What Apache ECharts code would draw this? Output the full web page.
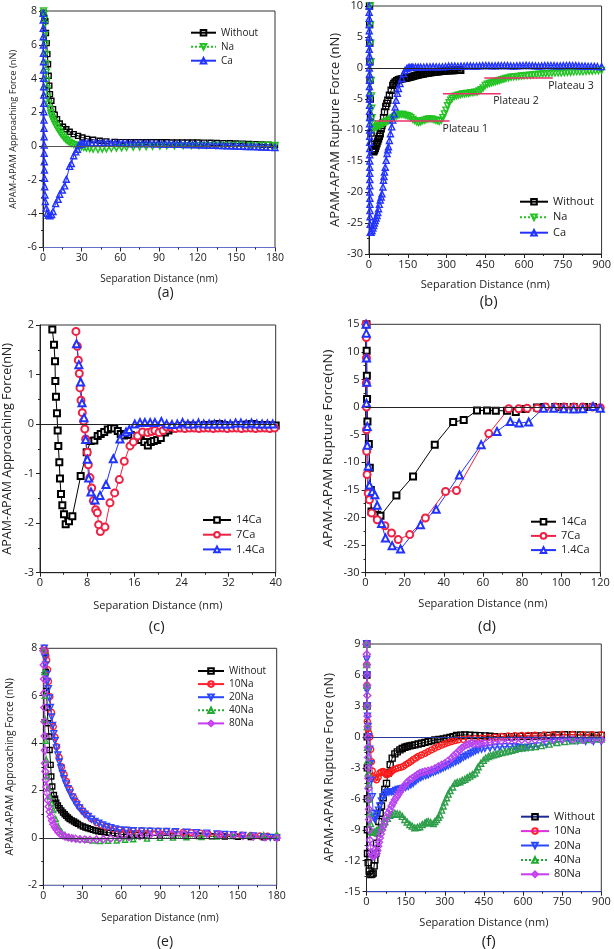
<!DOCTYPE html>
<html><head><meta charset="utf-8">
<script src="https://cdn.jsdelivr.net/npm/echarts@6/dist/echarts.min.js"></script>
<style>html,body{margin:0;padding:0;background:#fff}#c{width:614px;height:949px}</style>
</head><body><div id="c"></div>
<script>
// ---------- Panel (a): approaching force ----------
const aWithout = [[0.3,7.9],[1.0,7.6],[1.8,7.4],[2.3,6.7],[2.85,6.1],[3.4,5.45],[3.9,4.85],[4.4,4.17],[4.9,3.58],[5.4,3.08],[6.5,2.69],[7.8,2.19],[9.1,1.86],[10.9,1.6],[13,1.34],[15.5,1.15],[18.1,1.0],[20.7,0.85],[23.8,0.71],[27.2,0.61],[30.6,0.51],[34.2,0.43],[38.9,0.38],[44,0.32],[49.2,0.28],[55.7,0.25],[60,0.24],[64,0.24],[68,0.24],[72,0.23],[76,0.23],[80,0.23],[84,0.23],[88,0.23],[92,0.23],[96,0.23],[100,0.22],[104,0.22],[108,0.22],[112,0.22],[116,0.22],[120,0.22],[125,0.21],[130,0.2],[135,0.19],[140,0.18],[145,0.17],[150,0.16],[155,0.15],[160,0.13],[165,0.12],[170,0.1],[175,0.08],[180,0.06]];
const aNa = [[0.5,8.0],[0.8,7.8],[1.05,7.5],[1.3,7.2],[1.55,6.6],[1.8,6.05],[2.1,5.45],[2.3,4.86],[2.6,4.37],[2.85,3.87],[3.1,3.38],[3.6,2.89],[4.4,2.49],[5.2,2.19],[6.0,1.95],[6.5,1.8],[7.2,1.66],[7.8,1.54],[8.7,1.4],[9.6,1.26],[10.6,1.12],[11.7,0.99],[12.7,0.87],[13.7,0.75],[14.9,0.63],[16.1,0.51],[17.4,0.41],[18.7,0.32],[20.3,0.24],[22,0.16],[24,0.09],[25.9,0.04],[27.8,0],[29.8,-0.04],[31.7,-0.08],[33.7,-0.12],[36.3,-0.15],[38.9,-0.18],[42.7,-0.2],[46,-0.18],[49.2,-0.16],[53,-0.14],[57,-0.12],[61,-0.1],[64.8,-0.08],[70,-0.06],[75,-0.04],[80,-0.03],[85,-0.02],[90.7,0],[96,0.01],[102,0.01],[108.8,0.02],[115,0.03],[121,0.03],[127,0.04],[134,0.04],[141,0.04],[147.7,0.04],[154,0.05],[161,0.04],[168,0.04],[174,0.05],[180,0.04]];
const aCa = [[0.1,7.86],[0.15,7.47],[0.2,6.98],[0.25,6.48],[0.3,5.99],[0.35,5.5],[0.4,5.0],[0.45,4.51],[0.5,4.02],[0.55,3.52],[0.6,3.03],[0.65,2.54],[0.7,2.04],[0.75,1.55],[0.8,1.06],[0.85,0.56],[0.9,0.07],[0.95,-0.42],[1.0,-0.92],[1.1,-1.41],[1.2,-1.9],[1.3,-2.4],[1.5,-2.89],[1.8,-3.28],[2.5,-3.67],[3.2,-3.97],[4.2,-4.09],[5.4,-4.12],[6.7,-4.05],[7.8,-3.87],[9.8,-3.4],[11.7,-3.14],[13,-2.85],[15,-2.6],[16.8,-2.35],[18.1,-1.96],[20.7,-1.2],[22,-1.03],[23.8,-0.57],[25.4,-0.34],[26.7,-0.18],[28,0.08],[29.5,0.13],[31,0.16],[33,0.17],[35,0.18],[38,0.18],[41,0.19],[44,0.19],[47,0.19],[50,0.18],[53,0.18],[56,0.18],[59,0.17],[62,0.17],[65,0.17],[68,0.16],[71,0.16],[74,0.16],[77,0.15],[80,0.15],[83,0.15],[86,0.14],[89,0.14],[92,0.13],[95,0.13],[98,0.12],[101,0.12],[104,0.11],[107,0.11],[110,0.1],[113,0.1],[116,0.09],[119,0.08],[122,0.08],[125,0.07],[128,0.06],[131,0.05],[134,0.05],[137,0.04],[140,0.03],[143,0.02],[146,0.02],[149,0.01],[152,0],[155,-0.01],[158,-0.02],[161,-0.03],[164,-0.03],[167,-0.04],[170,-0.05],[173,-0.06],[176,-0.07],[180,-0.08]];

// ---------- Panel (b): rupture force ----------
const bWithout = [[2,10],[2.5,7],[3,4],[3.5,1],[4,-2],[5,-5],[6,-8],[8,-10.5],[11,-12.3],[14,-13.2],[17.9,-13.5],[21,-13.3],[24.3,-13.0],[27.5,-12.6],[30.7,-12.2],[34,-11.8],[37,-11.4],[40,-11],[43.5,-10.6],[47.3,-9.8],[50,-9.3],[52.4,-8.9],[56.3,-8.0],[60,-7.1],[65,-6.2],[69,-5.7],[72.9,-5.2],[79,-4.4],[85.7,-3.6],[92,-2.8],[96,-2.5],[101,-2.26],[107,-2.05],[113.8,-1.88],[120,-1.82],[127,-1.76],[133,-1.72],[140,-1.68],[146,-1.62],[152,-1.56],[158,-1.48],[165,-1.4],[171,-1.32],[178,-1.24],[184,-1.18],[190,-1.12],[197,-1.06],[203,-1.02],[210,-0.96],[216,-0.9],[222,-0.85],[229,-0.8],[235,-0.76],[241,-0.72],[248,-0.68],[254,-0.65],[261,-0.62],[267,-0.6],[273,-0.57],[280,-0.54],[287,-0.51],[293,-0.48],[300,-0.45],[306,-0.43],[312,-0.41],[318,-0.4],[324,-0.4],[330,-0.4],[337,-0.39],[344,-0.38],[350,-0.37],[355,-0.37]];
const bNa = [[5,10],[6,7],[7,4],[8,1],[9,-2],[10,-4.5],[11,-6.5],[12,-8],[14,-9],[17,-9.6],[22,-9.7],[28,-9.5],[34,-9.4],[40,-9.3],[46,-9.2],[52,-9.0],[58,-8.9],[64,-8.7],[70,-8.6],[76,-8.5],[82,-8.3],[88,-8.2],[94,-8.0],[100,-7.8],[106,-7.7],[112,-7.6],[118,-7.5],[125,-7.5],[132,-7.5],[140,-7.6],[148,-7.7],[155,-7.8],[162,-8.0],[170,-8.3],[177,-8.5],[185,-8.7],[192,-8.8],[200,-8.7],[208,-8.5],[216,-8.4],[224,-8.3],[232,-8.2],[240,-8.2],[248,-8.3],[256,-8.4],[264,-8.5],[272,-8.6],[280,-8.4],[286,-8.0],[292,-7.4],[298,-6.8],[304,-6.1],[310,-5.6],[316,-5.2],[322,-4.9],[330,-4.6],[338,-4.5],[346,-4.4],[354,-4.3],[362,-4.2],[370,-4.2],[378,-4.1],[386,-4.1],[394,-4.0],[402,-4.0],[410,-3.9],[418,-3.9],[426,-3.7],[434,-3.5],[442,-3.2],[450,-2.8],[458,-2.6],[466,-2.5],[474,-2.4],[482,-2.3],[490,-2.2],[498,-2.1],[506,-2.0],[514,-1.9],[522,-1.8],[530,-1.7],[540,-1.6],[550,-1.5],[560,-1.45],[570,-1.4],[580,-1.35],[590,-1.3],[600,-1.25],[612,-1.2],[624,-1.15],[636,-1.1],[648,-1.05],[660,-1.0],[672,-0.95],[684,-0.9],[696,-0.9],[708,-0.85],[720,-0.8],[732,-0.8],[744,-0.8],[756,-0.75],[768,-0.7],[780,-0.7],[792,-0.65],[804,-0.6],[816,-0.6],[828,-0.6],[840,-0.55],[852,-0.5],[864,-0.5],[876,-0.45],[888,-0.45],[900,-0.4]];
const bCa = [[0.5,10],[0.6,9],[0.7,8],[0.8,7],[0.9,6],[1.0,5],[1.1,4],[1.2,3],[1.3,2],[1.4,1],[1.5,0],[1.6,-1],[1.7,-2],[1.8,-3],[1.9,-4],[2.0,-5],[2.1,-6],[2.2,-7],[2.3,-8],[2.4,-9],[2.5,-10],[2.6,-11],[2.7,-12],[2.8,-13],[2.9,-14],[3.0,-15],[3.1,-16],[3.2,-17],[3.3,-18],[3.4,-19],[3.5,-20],[3.6,-21],[3.7,-22],[3.9,-23],[4.1,-24],[4.5,-25.2],[5,-26.5],[8,-26.5],[11.5,-26.2],[15,-25.8],[18,-25.4],[21,-25],[24,-24.6],[27.5,-24.2],[31,-23.8],[34,-23.3],[37,-22.7],[40,-22],[43.5,-21.3],[47,-20.8],[50,-20.3],[54,-19.2],[56,-18.1],[58,-17.5],[60,-16.8],[63,-16],[66.5,-14.9],[70,-13.8],[73,-13.2],[75.4,-12.7],[79,-11.7],[83,-10.6],[88,-9.5],[92,-8.4],[97,-7.4],[101,-6.3],[105,-5.2],[110,-4.1],[114,-3.3],[120,-2.5],[127,-1.7],[133,-0.9],[139,-0.4],[146,-0.1],[152,0.05],[158,0.1],[164,0.12],[170,0.15],[180,0.15],[190,0.15],[200,0.15],[212,0.16],[224,0.18],[236,0.2],[248,0.22],[260,0.2],[272,0.18],[284,0.2],[296,0.25],[308,0.3],[320,0.32],[332,0.3],[344,0.28],[356,0.3],[368,0.33],[380,0.35],[392,0.35],[404,0.33],[416,0.32],[428,0.35],[440,0.38],[452,0.4],[464,0.38],[476,0.35],[488,0.35],[500,0.38],[512,0.4],[524,0.4],[536,0.38],[548,0.35],[560,0.33],[572,0.35],[584,0.38],[596,0.4],[608,0.42],[620,0.4],[632,0.38],[644,0.35],[656,0.33],[668,0.35],[680,0.38],[692,0.4],[704,0.4],[716,0.38],[728,0.35],[740,0.35],[752,0.38],[764,0.4],[776,0.42],[788,0.4],[800,0.38],[812,0.35],[824,0.33],[836,0.3],[848,0.28],[860,0.28],[872,0.27],[884,0.25],[900,0.22]];
const plateau1 = [[24,-8.55],[312,-8.55]];
const plateau2 = [[286,-4.14],[510,-4.14]];
const plateau3 = [[446,-1.6],[711,-1.6]];

// ---------- Panel (c): approaching force, Ca ----------
const c14Ca = [[2.09,1.91],[2.38,1.6],[2.55,1.27],[2.6,0.87],[2.71,0.55],[2.88,0.22],[3.0,-0.13],[3.11,-0.44],[3.28,-0.77],[3.39,-1.1],[3.56,-1.41],[3.79,-1.64],[4.07,-1.82],[4.36,-2.02],[4.92,-1.96],[5.49,-1.86],[6.9,-1.05],[7.92,-0.57],[8.6,-0.34],[9.22,-0.33],[9.79,-0.24],[10.3,-0.2],[10.9,-0.16],[11.5,-0.11],[12.05,-0.08],[12.6,-0.09],[13.2,-0.14],[13.7,-0.2],[14.25,-0.23],[14.9,-0.2],[15.4,-0.22],[16.0,-0.24],[16.6,-0.26],[17.1,-0.32],[17.7,-0.36],[18.3,-0.43],[18.8,-0.36],[19.3,-0.34],[19.9,-0.32],[20.5,-0.28],[21.2,-0.17],[21.8,-0.13],[22.5,-0.09],[23.2,-0.06],[24,-0.04],[24.8,-0.03],[25.6,-0.03],[26.4,-0.03],[27.2,-0.04],[28,-0.02],[28.8,-0.02],[29.6,-0.01],[30.4,0.0],[31.2,-0.02],[32,-0.03],[32.8,-0.03],[33.6,-0.02],[34.4,-0.02],[35.2,-0.01],[36,0.0],[36.8,-0.02],[37.6,-0.03],[38.4,-0.02],[39.2,-0.03],[40,-0.03]];
const c7Ca = [[6.1,1.87],[6.33,1.57],[6.5,1.29],[6.67,1.02],[6.79,0.73],[6.96,0.48],[7.18,0.23],[7.4,0.06],[7.6,-0.1],[7.75,-0.3],[8.03,-0.57],[8.2,-0.82],[8.48,-1.08],[8.77,-1.29],[9.05,-1.55],[9.45,-1.73],[9.73,-1.79],[9.95,-2.03],[10.24,-2.17],[11.03,-2.08],[11.88,-1.59],[12.67,-1.39],[13.46,-1.12],[14.3,-0.75],[15.27,-0.44],[15.84,-0.36],[16.57,-0.24],[17.4,-0.16],[18.3,-0.17],[18.95,-0.15],[19.5,-0.13],[20.2,-0.17],[20.9,-0.13],[21.5,-0.06],[22.2,-0.06],[23,-0.09],[23.8,-0.08],[24.6,-0.09],[25.4,-0.08],[26.2,-0.08],[27,-0.09],[27.8,-0.08],[28.6,-0.08],[29.4,-0.09],[30.2,-0.08],[31,-0.08],[31.8,-0.09],[32.6,-0.08],[33.4,-0.08],[34.2,-0.09],[35,-0.08],[35.8,-0.08],[36.6,-0.09],[37.4,-0.08],[38.2,-0.08],[39,-0.09],[39.8,-0.08]];
const c1_4Ca = [[6.2,1.62],[6.6,1.2],[6.9,0.85],[7.13,0.43],[7.47,0.13],[7.75,-0.31],[8.03,-0.71],[8.26,-1.09],[8.65,-1.37],[9.33,-1.53],[10.18,-1.44],[11.2,-1.22],[12.44,-0.7],[13.57,-0.3],[14.6,-0.16],[15.16,-0.11],[16.1,0.0],[16.97,0.03],[17.8,0.03],[18.7,0.03],[19.5,0.03],[20.6,0.05],[21.5,0.0],[22.4,-0.01],[23.3,0.0],[24.2,0.03],[25.1,0.0],[26,0.0],[26.9,0.02],[27.8,0.0],[28.7,0.0],[29.6,0.0],[30.5,0.0],[31.4,0.0],[32.3,0.0],[33.2,0.02],[34.1,0.02],[35,0.0],[35.9,0.02],[36.8,0.0],[37.7,0.0],[38.6,0.0],[39.5,0.0]];

// ---------- Panel (d): rupture force, Ca ----------
const d14Ca = [[0.5,15],[0.6,10.2],[0.7,5.7],[0.8,1.45],[1.0,-2.6],[1.7,-6.7],[2.2,-11],[2.7,-15],[3.06,-18.9],[5.96,-19.5],[7.66,-19.7],[15.8,-16],[24.3,-12.55],[35.4,-6.8],[44.8,-2.7],[50.2,-2.35],[57,-0.6],[62.1,-0.6],[66.6,-0.66],[72.3,-0.66],[76.8,-0.9],[81.7,-0.36],[87.7,-0.06],[91.4,0],[97,0],[101.3,0],[106.4,0],[111.8,0],[116.3,0]];
const d7Ca = [[0.3,15],[0.4,12.6],[0.5,8.9],[0.4,4.35],[0.5,0],[0.5,-4.1],[0.6,-8],[0.8,-12.2],[1.4,-15.6],[2.0,-16.8],[3.1,-19.2],[6,-20.4],[9.9,-21.5],[13.3,-22.8],[16.7,-24.0],[22.6,-23.1],[30.6,-20.1],[40.9,-15.3],[46.5,-15.1],[63,-4.8],[73.2,-0.3],[78.3,-0.3],[82.6,-0.2],[87.7,-0.2],[92,0],[97,0],[101.5,0],[106.5,0],[111,0],[116,0],[120,-0.1]];
const d1_4Ca = [[0.3,15],[0.4,13.4],[0.5,8.9],[0.6,4.5],[0.5,0.7],[0.9,-3.5],[0.9,-6.9],[1.4,-10.7],[2.0,-14.1],[3.4,-15.3],[4.8,-15.9],[6,-17.8],[8.2,-21.1],[10.2,-23.7],[13.6,-25.1],[17.9,-25.7],[28.1,-21.3],[36.1,-18.5],[48,-12.3],[59.1,-6.8],[67.2,-4.4],[74,-2.6],[78.5,-2.9],[83.4,-2.7],[91,-0.2],[96.2,-0.2],[101.3,-0.3],[106.4,-0.36],[111,-0.3],[116.3,0.1],[120,-0.2]];

// ---------- Panel (e): approaching force, Na ----------
const eWithout = [[1.5,7.8],[2,7.0],[2.5,6.2],[3,5.5],[3.6,4.84],[4.37,4.28],[4.88,3.71],[5.66,3.08],[6.17,2.59],[6.94,2.17],[8.2,1.81],[9.1,1.65],[10,1.49],[11.3,1.37],[12.6,1.25],[13.9,1.16],[15.2,1.07],[16.5,1.0],[17.7,0.93],[19,0.86],[20.3,0.8],[22,0.74],[23.7,0.69],[25.2,0.64],[26.7,0.59],[28.6,0.53],[30.6,0.48],[32.5,0.44],[34.4,0.41],[36.4,0.37],[38.3,0.34],[40.2,0.31],[42.2,0.28],[44.7,0.26],[47.3,0.24],[50.5,0.22],[53.7,0.2],[57,0.18],[60.2,0.15],[64,0.14],[67.9,0.13],[71.7,0.12],[75.6,0.11],[80,0.1],[90,0.1],[100,0.09],[110,0.08],[120,0.08],[130,0.07],[140,0.06],[150,0.05],[160,0.04],[170,0.03],[180,0.02]];
const e10Na = [[0.5,8.0],[1.2,7.9],[2,7.7],[2.6,7.5],[3.3,7.1],[4,6.6],[5.1,5.96],[6.3,5.3],[7.7,4.7],[9,4.25],[10.3,3.85],[12.2,3.4],[14.1,3.0],[16,2.68],[18,2.38],[20.5,2.05],[23.1,1.74],[25.7,1.5],[28.3,1.29],[30.8,1.12],[33.4,0.97],[37.2,0.8],[41.1,0.65],[45,0.54],[48.8,0.45],[54,0.38],[59,0.34],[64,0.32],[69.4,0.3],[75.8,0.3],[82.3,0.29],[88.6,0.28],[95,0.27],[101,0.26],[108,0.24],[114,0.22],[121,0.2],[127,0.18],[134,0.16],[140,0.14],[146.5,0.13],[153,0.11],[160,0.1],[167,0.08],[173,0.07],[180,0.05]];
const e20Na = [[0.8,8],[1.3,7.6],[1.8,7.3],[2.5,6.9],[3.2,6.6],[3.9,6.3],[4.7,5.9],[5.5,5.5],[6.4,5.1],[7.2,4.75],[8.1,4.4],[9,4.1],[10.1,3.8],[11.2,3.5],[12.3,3.2],[13.5,2.95],[14.7,2.72],[15.9,2.5],[17.4,2.28],[19,2.08],[20.6,1.9],[22.3,1.72],[24,1.55],[25.7,1.4],[27.8,1.26],[30,1.12],[32.1,1.0],[34.7,0.9],[37.2,0.79],[39.8,0.69],[42.8,0.62],[45.8,0.55],[48.8,0.48],[52,0.43],[55.5,0.38],[59,0.34],[64,0.32],[69.4,0.3],[76,0.29],[82.3,0.28],[88.5,0.27],[95,0.27],[102,0.26],[110.5,0.24],[118,0.22],[126,0.2],[134,0.17],[140,0.15],[146.5,0.13],[154,0.1],[162,0.08],[170,0.05],[175,0.02],[180,0.0]];
const e40Na = [[0.5,7.9],[0.8,7],[1.1,6],[1.4,5],[1.8,4.1],[2.3,3.3],[3,2.6],[3.9,2.1],[5.1,1.75],[6.4,1.46],[7.7,1.18],[9.6,0.8],[11.6,0.48],[14,0.27],[16.7,0.13],[20,0.03],[23.1,-0.01],[28,-0.05],[33.4,-0.08],[38.5,-0.11],[43.7,-0.13],[50,-0.12],[56.6,-0.11],[63,-0.08],[69.4,-0.06],[80,-0.03],[90,0],[100,0.01],[110.5,0.03],[122,0.04],[133.7,0.06],[146,0.08],[159.4,0.1],[170,0.12],[180,0.14]];
const e80Na = [[0,7.9],[0.3,7.3],[0.5,6.7],[0.65,6.1],[0.8,5.5],[0.9,4.9],[1.0,4.3],[1.15,3.7],[1.3,3.15],[1.6,2.8],[2.0,2.45],[2.4,2.15],[2.8,1.9],[3.4,1.6],[4.1,1.32],[4.9,1.1],[5.7,0.9],[6.7,0.73],[7.7,0.58],[9,0.45],[10.3,0.34],[11.6,0.25],[12.9,0.17],[14.8,0.11],[16.7,0.06],[19.3,0.02],[21.9,-0.01],[25,-0.04],[28.3,-0.06],[32,-0.07],[36,-0.08],[41,-0.07],[46.3,-0.06],[52,-0.03],[59,0],[66,0.04],[74.5,0.08],[82,0.11],[90,0.14],[99,0.16],[108,0.17],[117,0.17],[126,0.17],[136,0.14],[146.5,0.11],[154,0.08],[162,0.06],[171,0.03],[180,0]];

// ---------- Panel (f): rupture force, Na ----------
const fWithout = [[1,9],[1.5,6],[2,3],[2.5,0],[3,-3],[3.3,-6],[3.6,-9],[3.8,-11.3],[6.4,-12.2],[10.2,-13.0],[16.6,-13.35],[21,-13.3],[25.6,-13.2],[29.4,-12.5],[32,-11.9],[35.8,-11.3],[38.4,-10.3],[42.2,-9.3],[47.3,-8.2],[52.4,-7.4],[57.5,-6.7],[63.9,-5.9],[70.3,-5.1],[76.7,-4.5],[83,-3.5],[90.8,-2.7],[98.5,-2.06],[108.7,-1.65],[118,-1.45],[128,-1.26],[137,-1.12],[147,-1.0],[156,-0.93],[166,-0.87],[175,-0.82],[185,-0.77],[198,-0.69],[211,-0.61],[224,-0.53],[236.6,-0.45],[249,-0.37],[262,-0.29],[278,-0.24],[294,-0.19],[307,-0.12],[320,-0.06],[332,0.03],[345,0.13],[361,0.17],[377,0.19],[396,0.16],[416,0.13],[435,0.12],[454,0.1],[473,0.06],[492,0.03],[524,0.03],[556,0.03],[588,0.05],[620,0.06],[645,0.08],[671,0.1],[700,0.15],[730,0.18],[760,0.2],[790,0.2],[820,0.18],[850,0.17],[880,0.15],[900,0.15]];
const f10Na = [[0.5,9],[1,7],[1.5,5],[2,3],[3,1.5],[5,0.8],[8,0.4],[13,0],[16,-1.2],[19,-2.4],[22,-3.3],[25.6,-3.84],[32,-4.0],[38.4,-4.16],[44.7,-3.9],[51,-3.5],[57.5,-3.4],[64,-3.35],[70,-3.5],[76.7,-3.68],[83,-3.6],[89.5,-3.5],[96,-3.35],[102,-3.2],[112,-3.1],[121.5,-3.0],[131,-2.95],[140.7,-2.87],[150,-2.7],[160,-2.55],[170,-2.38],[179,-2.2],[189,-2.05],[198,-1.9],[211,-1.75],[224,-1.6],[236,-1.43],[249,-1.26],[262,-1.1],[275,-0.94],[288,-0.8],[300.5,-0.68],[313,-0.56],[326,-0.45],[339,-0.36],[351.7,-0.29],[371,-0.24],[390,-0.19],[415,-0.16],[441,-0.13],[466,-0.08],[492,-0.03],[518,0.04],[543,0.1],[569,0.12],[595,0.13],[620,0.15],[646,0.16],[680,0.18],[715,0.2],[750,0.23],[790,0.23],[830,0.22],[865,0.21],[900,0.2]];
const f20Na = [[0.5,9],[1,7.5],[1.5,6],[2,4.5],[3,3],[4,2],[6,1],[9,0],[12,-1.2],[15,-2.6],[19,-4.2],[22,-5.8],[25.6,-7.4],[28.5,-7.8],[32,-8.0],[37,-7.8],[42,-7.5],[46,-7.1],[51,-6.7],[57,-6.2],[64,-5.8],[70,-5.6],[76.7,-5.4],[83,-5.35],[89.5,-5.3],[96,-5.3],[102,-5.3],[112,-5.2],[121.5,-5.1],[131,-5.05],[140.7,-5.0],[150,-4.9],[160,-4.8],[170,-4.65],[179,-4.5],[189,-4.3],[198,-4.1],[208,-3.95],[217,-3.84],[227,-3.75],[236.6,-3.68],[246,-3.55],[256,-3.45],[265,-3.35],[275,-3.26],[285,-3.12],[294,-3.0],[303,-2.9],[313,-2.8],[322,-2.68],[332,-2.55],[342,-2.42],[352,-2.3],[361,-2.15],[371,-2.0],[380,-1.87],[390,-1.74],[400,-1.6],[409,-1.48],[418,-1.37],[428,-1.26],[441,-1.2],[454,-1.13],[473,-1.06],[492,-1.0],[511,-0.97],[530,-0.94],[550,-0.95],[569,-0.94],[582,-1.0],[595,-1.1],[607,-1.05],[620,-1.0],[640,-0.93],[659,-0.87],[690,-0.7],[720,-0.5],[750,-0.4],[780,-0.35],[810,-0.4],[840,-0.45],[870,-0.45],[900,-0.45]];
const f40Na = [[0.5,9],[1,7],[1.5,5],[2,3],[3,1],[4,-1],[5,-2.3],[6.4,-3.5],[8,-4.6],[10,-6],[12.8,-7.4],[15.5,-8.4],[19,-9.2],[25,-9.25],[32,-9.2],[38,-9.1],[44.8,-9.0],[51,-8.85],[57.5,-8.7],[64,-8.45],[70.3,-8.2],[80,-7.9],[89.5,-7.6],[99,-7.5],[108.7,-7.4],[118,-7.45],[128,-7.5],[137,-7.7],[147,-8.0],[156,-8.25],[166,-8.5],[175,-8.65],[185,-8.8],[195,-8.75],[204,-8.7],[214,-8.5],[224,-8.35],[230,-8.25],[236.6,-8.2],[246,-8.3],[256,-8.4],[262,-8.2],[269,-8.0],[275,-7.8],[281,-7.55],[288,-7.1],[294,-6.7],[300,-6.3],[307,-5.9],[313,-5.55],[320,-5.2],[330,-4.85],[339,-4.5],[348,-4.4],[358,-4.35],[367,-4.2],[377,-4.1],[386,-3.95],[396,-3.8],[406,-3.65],[415.6,-3.5],[422,-3.2],[428,-2.9],[438,-2.55],[448,-2.26],[457,-2.05],[467,-1.9],[476,-1.8],[486,-1.74],[496,-1.67],[505,-1.6],[518,-1.52],[531,-1.45],[543,-1.38],[556,-1.3],[569,-1.2],[582,-1.1],[595,-1.06],[607,-1.03],[627,-0.98],[646,-0.94],[670,-0.85],[700,-0.7],[730,-0.55],[760,-0.45],[790,-0.38],[820,-0.3],[850,-0.25],[880,-0.2],[900,-0.2]];
const f80Na = [[0.5,9],[1,8],[1.5,7],[2,6],[2.5,5],[3,4],[3.5,3],[4,2],[4.5,1],[5,0],[5.5,-1],[6,-2],[6.5,-3],[7,-4],[7.5,-5],[8,-6],[9,-7],[10,-8],[11,-9],[13,-10],[15,-10.7],[18,-11.2],[21,-11.5],[25.6,-11.6],[32,-11.5],[38.4,-11.3],[41.5,-11.0],[44.8,-10.6],[48,-10.2],[51,-9.8],[55,-9.4],[60,-9.0],[65,-8.6],[70.3,-8.2],[76.5,-7.8],[83,-7.4],[89.5,-7.05],[96,-6.7],[102,-6.4],[108.7,-6.1],[115,-5.85],[121.5,-5.6],[128,-5.35],[134,-5.1],[140.5,-4.85],[147,-4.65],[156,-4.4],[166,-4.16],[175,-4.0],[185,-3.84],[195,-3.65],[204.6,-3.5],[214,-3.42],[224,-3.35],[236,-3.28],[249,-3.2],[262,-3.05],[275,-2.87],[288,-2.7],[300.5,-2.55],[313,-2.3],[326,-2.06],[335,-1.8],[345,-1.58],[355,-1.33],[364,-1.1],[374,-0.92],[384,-0.77],[393,-0.68],[403,-0.61],[415,-0.64],[428,-0.68],[441,-0.65],[454,-0.61],[473,-0.53],[492,-0.45],[517,-0.4],[543,-0.35],[569,-0.32],[595,-0.29],[620,-0.29],[646,-0.29],[680,-0.27],[715,-0.25],[750,-0.23],[790,-0.25],[830,-0.28],[865,-0.3],[900,-0.3]];

// ---------- layout ----------
const FONT = '"Open Sans", "DejaVu Sans", sans-serif';
const TXT = '#222';

const panels = [
  {grid:{left:43,top:11,width:232,height:236.5}, x:[0,180,30], y:[-6,8,2], yName:'APAM-APAM Approaching Force (nN)', fs:10.5, nfs:10, yfs:9.3, xGap:27, yGap:25, bottomColor:'#6670c8', zero:'#555'},
  {grid:{left:369,top:6,width:234.5,height:248}, x:[0,900,150], y:[-30,10,5], yName:'APAM-APAM Rupture Force (nN)', fs:11, nfs:11, yfs:13, xGap:25, yGap:27, bottomColor:'#222', zero:'#222'},
  {grid:{left:40,top:325,width:235.7,height:247.7}, x:[0,40,8], y:[-3,2,1], yName:'APAM-APAM Approaching Force(nN)', fs:11, nfs:11, yfs:12.6, xGap:28, yGap:26, bottomColor:'#222', zero:'#222'},
  {grid:{left:365.5,top:324.3,width:234.8,height:248.4}, x:[0,120,20], y:[-30,15,5], yName:'APAM-APAM Rupture Force(nN)', fs:11, nfs:11, yfs:13.5, xGap:26, yGap:30, bottomColor:'#222', zero:'#222'},
  {grid:{left:43.3,top:648.3,width:233.4,height:237}, x:[0,180,30], y:[-2,8,2], yName:'APAM-APAM Approaching Force (nN)', fs:10.5, nfs:10, yfs:10.4, xGap:28, yGap:28, bottomColor:'#6670c8', zero:'#334'},
  {grid:{left:366.5,top:644,width:234.8,height:247.7}, x:[0,900,150], y:[-15,9,3], yName:'APAM-APAM Rupture Force (nN)', fs:11, nfs:11, yfs:12.7, xGap:26, yGap:30.5, bottomColor:'#3344cc', zero:'#2a3a9a'}
];

const grids = [], xAxes = [], yAxes = [];
panels.forEach((p, i) => {
  grids.push(Object.assign({show:true, borderColor:'#333', borderWidth:1, backgroundColor:'#fff'}, p.grid));
  xAxes.push({type:'value', gridIndex:i, min:p.x[0], max:p.x[1], interval:p.x[2],
    axisLine:{show:true, onZero:false, lineStyle:{color:p.bottomColor, width:1}},
    axisTick:{show:true, length:4, lineStyle:{color:'#222'}},
    minorTick:{show:true, splitNumber:2, length:2, lineStyle:{color:'#222'}},
    splitLine:{show:false},
    axisLabel:{fontSize:p.fs, color:TXT, fontFamily:FONT, margin:5},
    name:'Separation Distance (nm)', nameLocation:'middle', nameGap:p.xGap,
    nameTextStyle:{fontSize:p.nfs, color:TXT, fontFamily:FONT}});
  yAxes.push({type:'value', gridIndex:i, min:p.y[0], max:p.y[1], interval:p.y[2],
    axisLine:{show:true, onZero:false, lineStyle:{color:'#222', width:1}},
    axisTick:{show:true, length:4, lineStyle:{color:'#222'}},
    minorTick:{show:true, splitNumber:2, length:2, lineStyle:{color:'#222'}},
    splitLine:{show:false},
    axisLabel:{fontSize:p.fs, color:TXT, fontFamily:FONT, margin:6},
    name:p.yName, nameLocation:'middle', nameGap:p.yGap,
    nameTextStyle:{fontSize:p.yfs, color:TXT, fontFamily:FONT}});
});

// hollow markers: white-filled for sparse panels, see-through (bolder outline) for dense panels
function S(name, data, i, sym, color, o) {
  o = o || {};
  const see = !!o.see;
  const s = {type:'line', name, data, xAxisIndex:i, yAxisIndex:i,
    symbol: see ? sym : 'empty' + sym.charAt(0).toUpperCase() + sym.slice(1),
    symbolSize:o.size || 6, symbolRotate:o.rot || 0,
    itemStyle: see ? {color:'rgba(255,255,255,0)', borderColor:color, borderWidth:1.4} : {color},
    lineStyle:{color:o.lc || color, width:1, type:o.dash || 'solid'},
    animation:false, z:o.z || 2};
  if (o.zero) s.markLine = {silent:true, symbol:'none', label:{show:false}, animation:false,
    lineStyle:{color:o.zero, type:'solid', width:1}, data:[{yAxis:0}]};
  return s;
}
function P(data, i) {
  return {type:'line', data, xAxisIndex:i, yAxisIndex:i, symbol:'none', animation:false,
    lineStyle:{color:'#e8336a', width:1.5}, z:5, silent:true};
}

const BLACK='#000', GREEN='#22c322', BLUE='#2233ff', RED='#ee2244', MAG='#c63cf0';
const series = [
  S('Without', aWithout, 0, 'rect', BLACK, {size:5, see:true, zero:panels[0].zero}),
  S('Na', aNa, 0, 'triangle', GREEN, {size:6, rot:180, dash:'dotted', see:true}),
  S('Ca', aCa, 0, 'triangle', BLUE, {size:6, see:true}),

  S('Without', bWithout, 1, 'rect', BLACK, {size:6, see:true, zero:panels[1].zero}),
  S('Na', bNa, 1, 'triangle', GREEN, {size:6, rot:180, dash:'dotted', see:true}),
  S('Ca', bCa, 1, 'triangle', BLUE, {size:6, see:true}),
  P(plateau1, 1), P(plateau2, 1), P(plateau3, 1),

  S('14Ca', c14Ca, 2, 'rect', BLACK, {size:6, zero:panels[2].zero}),
  S('7Ca', c7Ca, 2, 'circle', RED, {size:7}),
  S('1.4Ca', c1_4Ca, 2, 'triangle', BLUE, {size:7}),

  S('14Ca', d14Ca, 3, 'rect', BLACK, {size:6, zero:panels[3].zero}),
  S('7Ca', d7Ca, 3, 'circle', RED, {size:7}),
  S('1.4Ca', d1_4Ca, 3, 'triangle', BLUE, {size:7}),

  S('Without', eWithout, 4, 'rect', BLACK, {size:5, see:true, zero:panels[4].zero}),
  S('10Na', e10Na, 4, 'circle', '#ff2030', {size:6, see:true}),
  S('20Na', e20Na, 4, 'triangle', '#2a48ff', {size:6, rot:180, see:true}),
  S('40Na', e40Na, 4, 'triangle', '#22aa33', {size:5, dash:'dotted', see:true}),
  S('80Na', e80Na, 4, 'diamond', MAG, {size:7, see:true}),

  S('Without', fWithout, 5, 'rect', BLACK, {size:6, see:true, zero:panels[5].zero}),
  S('10Na', f10Na, 5, 'circle', '#ff1a1a', {size:6, see:true}),
  S('20Na', f20Na, 5, 'triangle', '#2a48ff', {size:6, rot:180, see:true}),
  S('40Na', f40Na, 5, 'triangle', '#2e9e4a', {size:6, see:true}),
  S('80Na', f80Na, 5, 'diamond', '#b844f0', {size:7, see:true})
];

function L(left, top, gap, fs, iw, data) {
  return {show:true, orient:'vertical', left, top, itemGap:gap, itemWidth:iw, itemHeight:7,
    selectedMode:false, padding:0,
    textStyle:{fontSize:fs, fontFamily:FONT, color:TXT, lineHeight:12}, data};
}
const legends = [
  L(190, 26.7, 2, 10, 25, ['Without','Na','Ca']),
  L(519, 195.7, 3.5, 11, 28, ['Without','Na','Ca']),
  L(202, 514, 2.7, 11, 28, ['14Ca','7Ca','1.4Ca']),
  L(530, 515.7, 2.2, 11, 25, ['14Ca','7Ca','1.4Ca']),
  L(197, 665, 1.1, 10, 26, ['Without','10Na','20Na','40Na','80Na']),
  L(520, 810.7, 2.4, 11, 28, [
    {name:'Without', lineStyle:{color:'#1a2a9a'}},
    {name:'10Na', lineStyle:{color:'#e030e0'}},
    {name:'20Na'}, {name:'40Na'}, {name:'80Na'}])
];

function T(text, x, y, size) {
  return {type:'text', x, y, silent:true, z:100,
    style:{text, fontSize:size, fontFamily:FONT, fill:TXT, textAlign:'center', textVerticalAlign:'middle'}};
}
const graphics = [
  T('(a)', 165.7, 293.3, 14), T('(b)', 488.7, 301.7, 15), T('(c)', 156.7, 626.7, 15),
  T('(d)', 487, 626.7, 15), T('(e)', 165, 941.7, 14), T('(f)', 488.7, 941.7, 15),
  T('Plateau 1', 465.3, 129.3, 10.5), T('Plateau 2', 516, 101, 10.5), T('Plateau 3', 571, 86, 10.5)
];

const chart = echarts.init(document.getElementById('c'), null, {renderer:'canvas'});
chart.setOption({
  animation:false, backgroundColor:'#fff',
  grid:grids, xAxis:xAxes, yAxis:yAxes, series, legend:legends, graphic:graphics
});
</script></body></html>
